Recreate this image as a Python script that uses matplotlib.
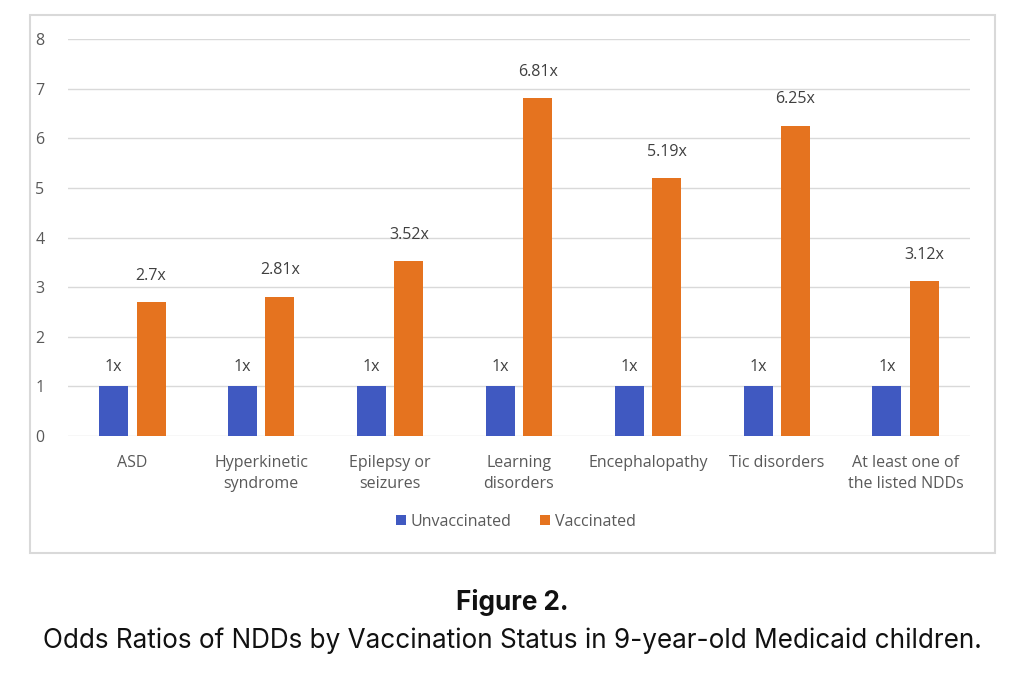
import matplotlib
matplotlib.use("Agg")
import matplotlib.pyplot as plt
import numpy as np
from matplotlib.patches import Rectangle

categories = ["ASD", "Hyperkinetic\nsyndrome", "Epilepsy or\nseizures", "Learning\ndisorders",
              "Encephalopathy", "Tic disorders", "At least one of\nthe listed NDDs"]
unvaccinated = [1, 1, 1, 1, 1, 1, 1]
vaccinated = [2.7, 2.81, 3.52, 6.81, 5.19, 6.25, 3.12]
unvacc_labels = ["1x"] * 7
vacc_labels = ["2.7x", "2.81x", "3.52x", "6.81x", "5.19x", "6.25x", "3.12x"]
yticks = [0, 1, 2, 3, 4, 5, 6, 7, 8]

BLUE = "#4059C1"
ORANGE = "#E5731F"
TXT = "#595959"
FONT = "Open Sans"
FS = 11.5

fig = plt.figure(figsize=(10.24, 6.78), dpi=100)
# chart border box
fig.patches.append(Rectangle((30/1024, 1-553/678), (995-30)/1024, (553-15)/678,
                             transform=fig.transFigure, fill=False,
                             edgecolor="#d9d9d9", linewidth=1.5))

ax = fig.add_axes([68/1024, 1-436/678, (970-68)/1024, (436-39)/678])
x = np.arange(len(categories))
w = 0.225
off = 0.145
b1 = ax.bar(x - off, unvaccinated, w, color=BLUE, label="Unvaccinated", zorder=3)
b2 = ax.bar(x + off, vaccinated, w, color=ORANGE, label="Vaccinated", zorder=3)

for rect, lab in zip(b1, unvacc_labels):
    ax.annotate(lab, (rect.get_x() + rect.get_width()/2, rect.get_height()),
                xytext=(0, 14), textcoords="offset points", ha="center", va="center",
                fontsize=FS, color="#404040", family=FONT)
for rect, lab in zip(b2, vacc_labels):
    ax.annotate(lab, (rect.get_x() + rect.get_width()/2, rect.get_height()),
                xytext=(0, 19), textcoords="offset points", ha="center", va="center",
                fontsize=FS, color="#404040", family=FONT)

ax.set_xlim(-0.5, len(categories) - 0.5)
ax.set_ylim(0, 8)
ax.set_yticks(yticks)
ax.set_yticklabels([str(t) for t in yticks], fontsize=FS, color=TXT, family=FONT)
ax.set_xticks(x)
ax.set_xticklabels(categories, fontsize=FS, color=TXT, family=FONT, linespacing=1.42)
ax.tick_params(axis="both", length=0)
ax.tick_params(axis="y", pad=17)
ax.tick_params(axis="x", pad=14)
ax.grid(axis="y", color="#d9d9d9", linewidth=1, zorder=0)
for s in ax.spines.values():
    s.set_visible(False)

leg = fig.legend(handles=[b1, b2], labels=["Unvaccinated", "Vaccinated"],
                 loc="center", bbox_to_anchor=(516/1024, 1-522/678), ncol=2, frameon=False,
                 prop={"family": FONT, "size": FS}, handlelength=0.6, handleheight=0.6,
                 handletextpad=0.3, columnspacing=1.8)
for t in leg.get_texts():
    t.set_color(TXT)

fig.text(512/1024, 1-602/678, "Figure 2.", ha="center", va="center",
         fontsize=18.8, fontweight="bold", family="Inter", color="#111111")
fig.text(512/1024, 1-641/678,
         "Odds Ratios of NDDs by Vaccination Status in 9-year-old Medicaid children.",
         ha="center", va="center", fontsize=18.8, family="Inter", color="#111111")

fig.savefig("out.png", dpi=100)
